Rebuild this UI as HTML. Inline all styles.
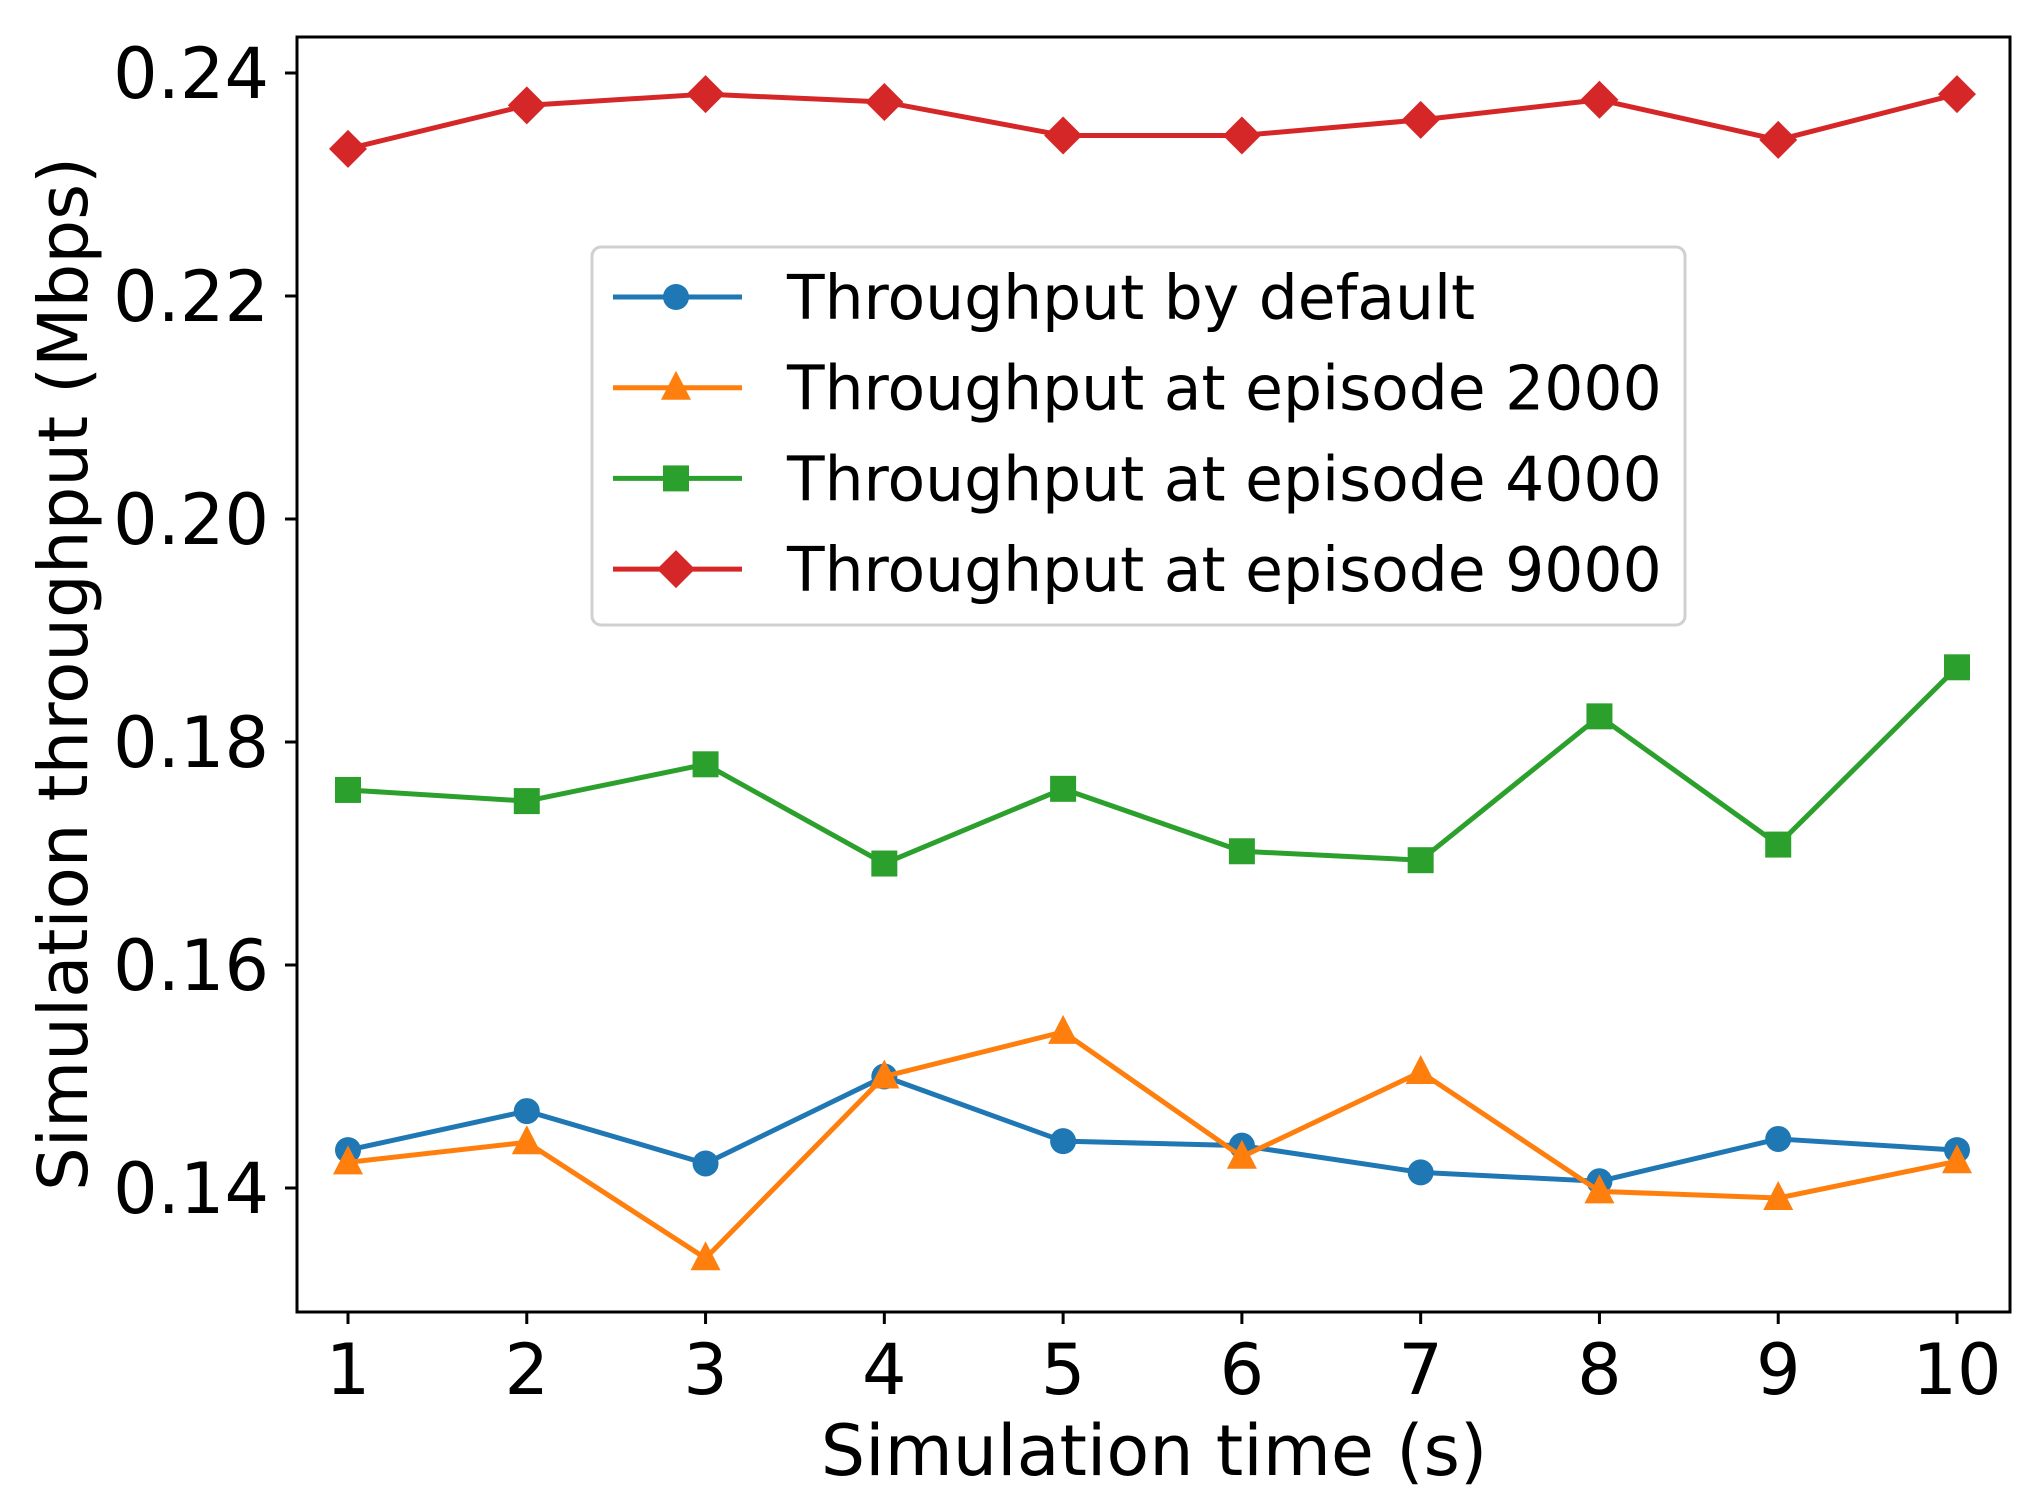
<!DOCTYPE html>
<html><head><meta charset="utf-8"><style>
html,body{margin:0;padding:0;background:#fff;}
svg{display:block;font-family:"DejaVu Sans","Liberation Sans",sans-serif;}
</style></head><body>
<svg id="chart" width="2033" height="1501" viewBox="0 0 2033 1501">
<g id="plot"></g>
</svg>
<script>
const xValues=[1,2,3,4,5,6,7,8,9,10];
const yTicks=[0.14,0.16,0.18,0.20,0.22,0.24];
const yTickLabels=["0.14","0.16","0.18","0.20","0.22","0.24"];
const seriesDefault=[0.1434,0.1469,0.1422,0.1500,0.1442,0.1438,0.1414,0.1406,0.1444,0.1434];
const series2000=[0.1423,0.1441,0.1337,0.1500,0.1540,0.1428,0.1504,0.1397,0.1391,0.1424];
const series4000=[0.1757,0.1747,0.1780,0.1691,0.1758,0.1702,0.1694,0.1823,0.1708,0.1867];
const series9000=[0.2332,0.2371,0.2381,0.2374,0.2344,0.2344,0.2358,0.2376,0.2340,0.2381];
const seriesNames=["Throughput by default","Throughput at episode 2000","Throughput at episode 4000","Throughput at episode 9000"];

const NS="http://www.w3.org/2000/svg";
const g=document.getElementById('plot');
const L=297,R=2010,T=37,B=1312;
function sx(v){return 348+(v-1)*(1957-348)/9;}
function sy(v){return 73+(0.24-v)/0.02*223;}
function mk(tag,attrs,parent){const e=document.createElementNS(NS,tag);for(const k in attrs)e.setAttribute(k,attrs[k]);(parent||g).appendChild(e);return e;}

function marker(type,x,y,color,parent){
  let e;
  if(type==='circle') e=mk('circle',{cx:x,cy:y,r:13,fill:color},parent);
  else if(type==='tri') e=mk('polygon',{points:`${x},${y-17} ${x+15},${y+12} ${x-15},${y+12}`,fill:color},parent);
  else if(type==='square') e=mk('rect',{x:x-13,y:y-13,width:26,height:26,fill:color},parent);
  else e=mk('polygon',{points:`${x},${y-19} ${x+19},${y} ${x},${y+19} ${x-19},${y}`,fill:color},parent);
  return e;
}

const series=[
 {vals:seriesDefault,color:'#1f77b4',m:'circle',name:'series-default'},
 {vals:series2000,color:'#ff7f0e',m:'tri',name:'series-episode-2000'},
 {vals:series4000,color:'#2ca02c',m:'square',name:'series-episode-4000'},
 {vals:series9000,color:'#d62728',m:'diamond',name:'series-episode-9000'}
];
series.forEach(s=>{
  const sg=mk('g',{});
  
  
  const pts=s.vals.map((v,i)=>sx(xValues[i])+','+sy(v)).join(' ');
  const pl=mk('polyline',{points:pts,fill:'none',stroke:s.color,'stroke-width':5,'stroke-linejoin':'round'},sg);
  
  
  s.vals.forEach((v,i)=>{
    const m=marker(s.m,sx(xValues[i]),sy(v),s.color,sg);
    
    
  });
});

const frame=mk('rect',{x:L,y:T,width:R-L,height:B-T,fill:'none',stroke:'#000','stroke-width':3});



yTicks.forEach((v,i)=>{
  const y=sy(v);
  const t=mk('line',{x1:L-12,x2:L,y1:y,y2:y,stroke:'#000','stroke-width':3});
  
  
  const lb=mk('text',{x:L-28,y:y+25,'text-anchor':'end','font-size':70,fill:'#000'});
  lb.textContent=yTickLabels[i];
  
  
});
xValues.forEach(v=>{
  const x=sx(v);
  const t=mk('line',{x1:x,x2:x,y1:B,y2:B+12,stroke:'#000','stroke-width':3});
  
  
  const lb=mk('text',{x:x,y:B+82,'text-anchor':'middle','font-size':70,fill:'#000'});
  lb.textContent=String(v);
  
  
});
const xt=mk('text',{x:1154,y:1475,'text-anchor':'middle','font-size':70,fill:'#000'});
xt.textContent='Simulation time (s)';


const yt=mk('text',{x:0,y:0,'text-anchor':'middle','font-size':69,fill:'#000',transform:'translate(87,674) rotate(-90)'});
yt.textContent='Simulation throughput (Mbps)';



const lg=mk('g',{});


mk('rect',{x:592,y:247,width:1093,height:378,rx:9,fill:'#fff','fill-opacity':0.8,stroke:'#d0d0d0','stroke-width':3},lg);
series.forEach((s,i)=>{
  const y=297+i*90.7;
  const eg=mk('g',{},lg);
  
  
  mk('line',{x1:613,x2:742,y1:y,y2:y,stroke:s.color,'stroke-width':5},eg);
  marker(s.m,676,y,s.color,eg);
  const t=mk('text',{x:787,y:y+22,'font-size':61.5,fill:'#000'},eg);
  t.textContent=seriesNames[i];
});
</script>
</body></html>
